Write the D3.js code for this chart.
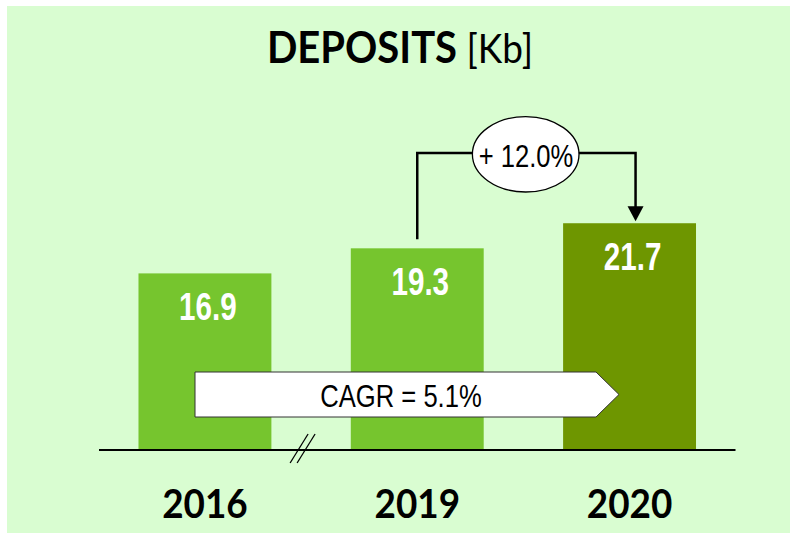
<!DOCTYPE html>
<html>
<head>
<meta charset="utf-8">
<script src="https://cdn.jsdelivr.net/npm/d3@7"></script>
<style>
  body { margin: 0; background: #ffffff; }
  svg { display: block; }
</style>
</head>
<body>
<div id="chart"></div>
<script>
// chart data
const years = ["2016", "2019", "2020"];
const deposits = [16.9, 19.3, 21.7];
const growthLabel = "+ 12.0%";
const cagrLabel = "CAGR = 5.1%";

const width = 790, height = 533;
const baseY = 450;
const narrow = "'Liberation Sans', Arial, sans-serif";

const svg = d3.select("#chart").append("svg")
  .attr("width", width)
  .attr("height", height);

// background panel
svg.append("rect")
  .attr("x", 7).attr("y", 6)
  .attr("width", 783).attr("height", 527)
  .attr("fill", "#d9fdd1");

// scales
const x = d3.scaleBand()
  .domain(years)
  .range([99, 735.5])
  .paddingInner(0.374)
  .paddingOuter(0.186);

const y = d3.scaleLinear()
  .domain([0, 25])
  .range([baseY, baseY - 261.25]);

const barColor = ["#76c52e", "#76c52e", "#6e9600"];

// title
const title = svg.append("text")
  .attr("text-anchor", "middle")
  .attr("transform", "translate(400,63) scale(1,1.08)")
  .style("font-family", "Lato, sans-serif");
title.append("tspan")
  .style("font-weight", "bold").style("font-size", "40px")
  .text("DEPOSITS");
title.append("tspan")
  .style("font-size", "37px")
  .text(" [Kb]");

// bars
svg.selectAll("rect.bar")
  .data(deposits)
  .join("rect")
  .attr("class", "bar")
  .attr("x", (d, i) => x(years[i]))
  .attr("y", d => y(d))
  .attr("width", x.bandwidth())
  .attr("height", d => baseY - y(d))
  .attr("fill", (d, i) => barColor[i]);

// value labels (condensed)
svg.selectAll("text.val")
  .data(deposits)
  .join("text")
  .attr("class", "val")
  .attr("transform", (d, i) =>
    `translate(${x(years[i]) + x.bandwidth() / 2 + 3},${y(d) + 47}) scale(0.76,1)`)
  .attr("text-anchor", "middle")
  .attr("fill", "#ffffff")
  .style("font-family", narrow)
  .style("font-weight", "bold")
  .style("font-size", "39px")
  .text(d => d.toFixed(1));

// baseline
svg.append("line")
  .attr("x1", x.range()[0]).attr("x2", x.range()[1])
  .attr("y1", baseY).attr("y2", baseY)
  .attr("stroke", "#000").attr("stroke-width", 2);

// axis break marks
const bx = (x(years[0]) + x.bandwidth() + x(years[1])) / 2 - 12;
[0, 7].forEach(o => {
  svg.append("line")
    .attr("x1", bx - 9 + o).attr("y1", baseY + 13)
    .attr("x2", bx + 9 + o).attr("y2", baseY - 16)
    .attr("stroke", "#000").attr("stroke-width", 1.3);
});

// year labels
svg.selectAll("text.year")
  .data(years)
  .join("text")
  .attr("class", "year")
  .attr("transform", d => `translate(${x(d) + x.bandwidth() / 2},518) scale(0.97,1.05)`)
  .attr("text-anchor", "middle")
  .style("font-family", "Lato, sans-serif")
  .style("font-weight", "bold")
  .style("font-size", "38px")
  .text(d => d);

// CAGR arrow
const ax0 = 195, ax1 = 596, axTip = 619, ayT = 372, ayB = 417;
svg.append("path")
  .attr("d", `M${ax0},${ayT}H${ax1}L${axTip},${(ayT + ayB) / 2}L${ax1},${ayB}H${ax0}Z`)
  .attr("fill", "#ffffff")
  .attr("stroke", "#333")
  .attr("stroke-width", 1);
svg.append("text")
  .attr("transform", "translate(401,406.5) scale(0.8,1)")
  .attr("text-anchor", "middle")
  .style("font-family", narrow)
  .style("font-size", "32px")
  .text(cagrLabel);

// growth bracket 2019 -> 2020
const gx1 = x(years[1]) + x.bandwidth() / 2;
const gx2 = x(years[2]) + x.bandwidth() / 2 + 6;
const gy = 153;
svg.append("path")
  .attr("d", `M${gx1},${y(deposits[1]) - 9}V${gy}H${gx2}V${y(deposits[2]) - 16}`)
  .attr("fill", "none")
  .attr("stroke", "#000")
  .attr("stroke-width", 2.5);
svg.append("path")
  .attr("d", `M${gx2 - 8},${y(deposits[2]) - 17}H${gx2 + 8}L${gx2},${y(deposits[2]) - 2}Z`)
  .attr("fill", "#000");

svg.append("ellipse")
  .attr("cx", 525.7).attr("cy", 154.3)
  .attr("rx", 53.3).attr("ry", 37.7)
  .attr("fill", "#ffffff")
  .attr("stroke", "#000")
  .attr("stroke-width", 1.3);
svg.append("text")
  .attr("transform", "translate(526,166.5) scale(0.8,1)")
  .attr("text-anchor", "middle")
  .style("font-family", narrow)
  .style("font-size", "32px")
  .text(growthLabel);
</script>
</body>
</html>
